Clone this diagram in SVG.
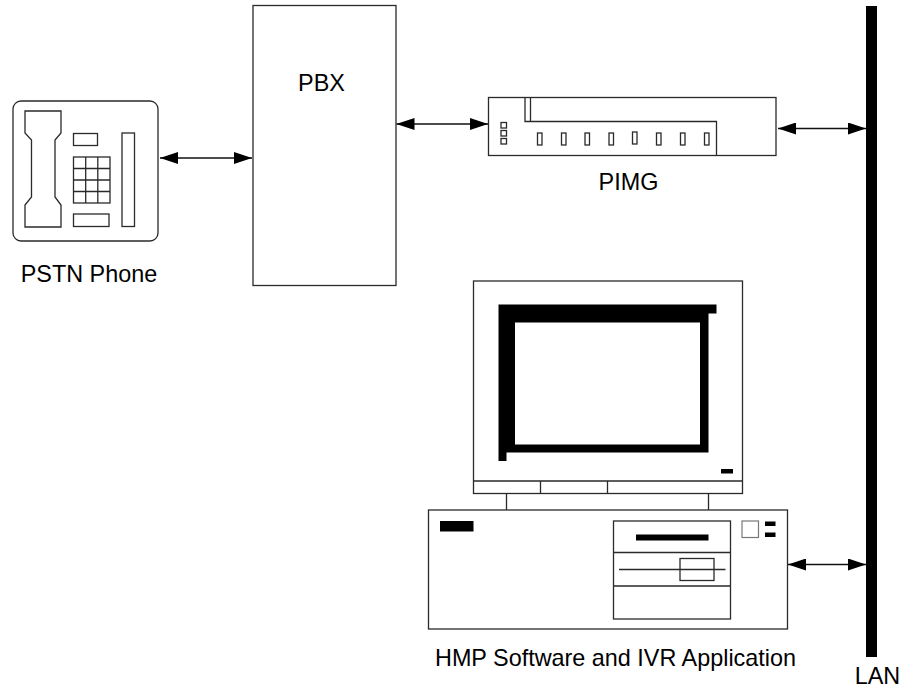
<svg xmlns="http://www.w3.org/2000/svg" width="906" height="692" viewBox="0 0 906 692">
  <defs>
    <style>
      .ln { fill: none; stroke: #2a2a2a; stroke-width: 1.3; }
      .bx { fill: #fff; stroke: #2a2a2a; stroke-width: 1.3; }
      .blk { fill: #000; stroke: none; }
      .lbl { font-family: "Liberation Sans", Arial, Helvetica, sans-serif; font-size: 23.4px; fill: #000; }
      .conn { fill: none; stroke: #111; stroke-width: 1.5; }
    </style>
    <marker id="arrow" viewBox="0 0 18 12" refX="18" refY="6" markerWidth="18" markerHeight="12" markerUnits="userSpaceOnUse" orient="auto-start-reverse">
      <path d="M0,0 L18,6 L0,12 z" fill="#000"/>
    </marker>
  </defs>

  <rect width="906" height="692" fill="#fff"/>

  <!-- Telephone handset -->
  <g id="pstn-phone">
    <rect class="bx" x="13" y="101" width="145" height="140" rx="8"/>
    <path class="ln" d="M25,111 L61,111 L61,133 L55,140 L55,197 L61,205 L61,227 L25,227 L25,205 L31.5,197 L31.5,140 L25,133 Z"/>
    <rect class="ln" x="73.5" y="133.5" width="24" height="12"/>
    <rect class="ln" x="73.5" y="157" width="36.5" height="46"/>
    <path class="ln" d="M85.7,157 V203 M97.8,157 V203 M73.5,168.5 H110 M73.5,180 H110 M73.5,191.5 H110"/>
    <rect class="ln" x="73.5" y="214" width="35.5" height="12.5"/>
    <rect class="ln" x="122" y="133" width="12.5" height="93.5"/>
    <text class="lbl" x="89" y="282" text-anchor="middle">PSTN Phone</text>
  </g>

  <!-- Private branch exchange -->
  <g id="pbx">
    <rect class="bx" x="253" y="5.5" width="143" height="280"/>
    <text class="lbl" x="321.5" y="91" text-anchor="middle">PBX</text>
  </g>

  <!-- Media gateway unit -->
  <g id="pimg">
    <rect class="bx" x="488.5" y="97.5" width="287.5" height="58"/>
    <path class="ln" d="M525,97.5 V121.5 H716.5 V155.5 M530.5,97.5 V121.5"/>
    <rect class="ln" x="501" y="122.5" width="5.5" height="5.5"/>
    <rect class="ln" x="501" y="130.5" width="5.5" height="5.5"/>
    <rect class="ln" x="501" y="138.5" width="5.5" height="5.5"/>
    <g class="ln">
      <rect x="537.5" y="133" width="4.5" height="12"/>
      <rect x="561.5" y="133" width="4.5" height="12"/>
      <rect x="585" y="133" width="4.5" height="12"/>
      <rect x="609" y="133" width="4.5" height="12"/>
      <rect x="632.5" y="132" width="4.5" height="12"/>
      <rect x="656.5" y="133" width="4.5" height="12"/>
      <rect x="680.5" y="133" width="4.5" height="12"/>
      <rect x="704.5" y="133" width="4.5" height="12"/>
    </g>
    <text class="lbl" x="628.5" y="190" text-anchor="middle">PIMG</text>
  </g>

  <!-- Network backbone -->
  <g id="lan">
    <rect class="blk" x="866" y="6" width="11" height="651"/>
    <text class="lbl" x="877.5" y="684" text-anchor="middle">LAN</text>
  </g>

  <!-- Host computer: monitor and system unit -->
  <g id="hmp-host">
    <rect class="bx" x="473.5" y="281" width="269" height="212.5"/>
    <path class="ln" d="M473.5,481 H742.5 M540.5,481 V493.5 M607.5,481 V493.5"/>
    <path class="blk" d="M498.5,304.5 H716.5 V313.5 H708.5 V452.5 H506.5 V461 H498.5 Z"/>
    <rect x="515" y="322.5" width="185" height="122" fill="#fff"/>
    <rect class="blk" x="721" y="469" width="12" height="4.5"/>
    <path class="ln" d="M506.5,493.5 V510 M708.5,493.5 V510"/>
    <rect class="bx" x="428.5" y="510" width="359" height="119"/>
    <rect class="blk" x="440" y="521" width="33.5" height="10.5"/>
    <rect class="ln" x="613.5" y="521" width="117" height="98"/>
    <path class="ln" d="M613.5,552.5 H730.5 M613.5,586 H730.5 M619,569.5 H725.5"/>
    <rect class="blk" x="636" y="534.5" width="72.5" height="6"/>
    <rect class="ln" x="680" y="558.5" width="34" height="22"/>
    <rect x="742" y="521" width="16.5" height="16.5" fill="#fff" stroke="#777" stroke-width="1.2"/>
    <rect class="blk" x="765" y="521.5" width="10.5" height="4.5"/>
    <rect class="blk" x="765" y="532.5" width="10.5" height="4.5"/>
    <text class="lbl" x="615.5" y="666" text-anchor="middle">HMP Software and IVR Application</text>
  </g>

  <!-- Links -->
  <g id="connectors">
    <line class="conn" x1="160" y1="158" x2="252" y2="158" marker-start="url(#arrow)" marker-end="url(#arrow)"/>
    <line class="conn" x1="396.5" y1="124" x2="488" y2="124" marker-start="url(#arrow)" marker-end="url(#arrow)"/>
    <line class="conn" x1="778" y1="128.5" x2="866" y2="128.5" marker-start="url(#arrow)" marker-end="url(#arrow)"/>
    <line class="conn" x1="788" y1="564.5" x2="866" y2="564.5" marker-start="url(#arrow)" marker-end="url(#arrow)"/>
  </g>
</svg>
